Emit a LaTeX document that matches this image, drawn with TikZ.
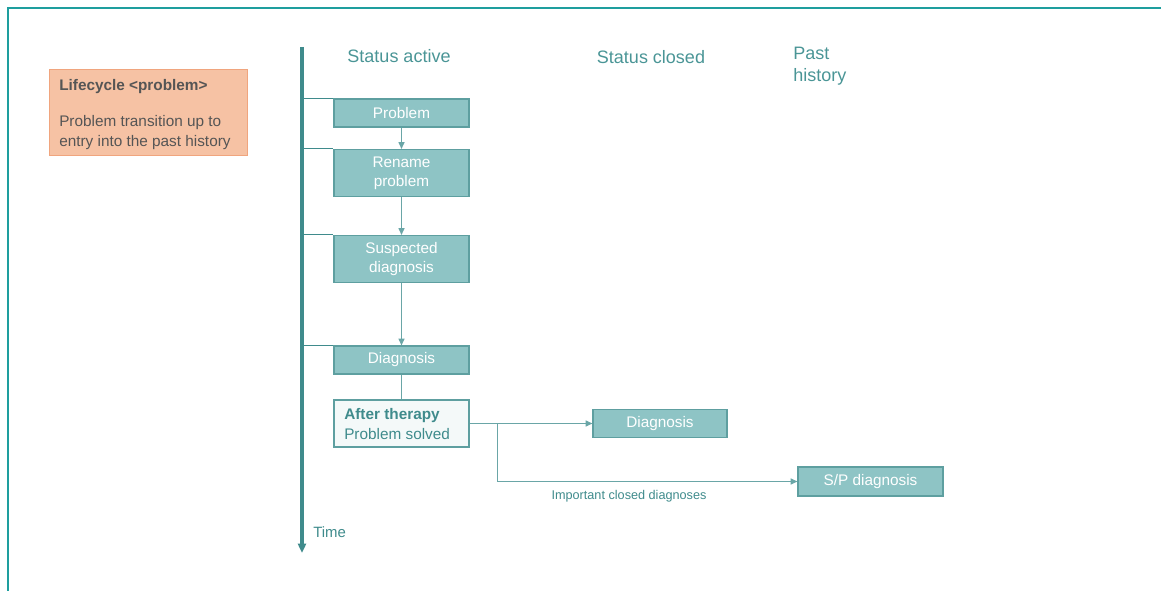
\documentclass[tikz,border=0pt]{standalone}
\usepackage{fontspec}
\setmainfont{Liberation Sans}
\usetikzlibrary{arrows.meta}
\definecolor{frameteal}{HTML}{1E9E9E}
\definecolor{axisteal}{HTML}{3F8B8C}
\definecolor{lineteal}{HTML}{6AA6A7}
\definecolor{boxfill}{HTML}{8EC4C5}
\definecolor{boxedge}{HTML}{5E9FA0}
\definecolor{headteal}{HTML}{4A9596}
\definecolor{lcfill}{HTML}{F6C2A4}
\definecolor{lcedge}{HTML}{F0A57E}
\definecolor{lctext}{HTML}{555555}
\tikzset{
  px/.style={x=0.75pt,y=-0.75pt},
  stagebox/.style={draw=boxedge,fill=boxfill,line width=0.9pt,text=white,
    font=\fontsize{11.5}{14.5}\selectfont,align=center,inner sep=0pt,
    minimum width=101.25pt},
  short/.style={minimum height=21pt},
  tall/.style={minimum height=35.25pt},
  header/.style={text=headteal,font=\fontsize{13.5}{16.5}\selectfont,inner sep=0pt},
  flow/.style={draw=lineteal,line width=0.7pt},
  flowarrow/.style={flow,-{Triangle[length=5pt,width=4.5pt]},shorten >=0pt},
  tick/.style={draw=axisteal,line width=0.8pt},
}
\begin{document}
\begin{tikzpicture}[px]
\useasboundingbox (0,0) rectangle (1161,591);
% page frame
\draw[frameteal,line width=1.4pt] (8,591) -- (8,8) -- (1161,8);

% legend box
\node[draw=lcedge,fill=lcfill,line width=0.9pt,anchor=north west,
      minimum width=148.5pt,minimum height=64.5pt,inner sep=0pt] (lc) at (49,69) {};
\node[anchor=north west,text=lctext,align=left,inner sep=0pt,
      font=\fontsize{11.5}{15}\selectfont] (lctxt) at (59,79)
  {\textbf{Lifecycle <problem>}\\[12pt]Problem transition up to\\entry into the past history};

% time axis
\coordinate (ax0) at (302,47);
\coordinate (ax1) at (302,553);
\draw[axisteal,line width=2.3pt,-{Triangle[length=7pt,width=6pt]}] (ax0) -- (ax1);
\node[anchor=west,text=axisteal,font=\fontsize{11.2}{13}\selectfont,inner sep=0pt] (time) at (313,532) {Time};

% column headings
\node[header] (hact) at (399,56) {Status active};
\node[header] (hcl) at (651,57) {Status closed};
\node[header,align=left,anchor=north west] (hpast) at (793,47) {Past\\history};

% active stages
\node[stagebox,short] (p1) at (401.5,113) {Problem};
\node[stagebox,tall]  (p2) at (401.5,173) {Rename\\problem};
\node[stagebox,tall]  (p3) at (401.5,259) {Suspected\\diagnosis};
\node[stagebox,short] (p4) at (401.5,360) {Diagnosis};
\node[draw=boxedge,fill=boxfill!10,line width=0.9pt,minimum width=101.25pt,minimum height=35.25pt,inner sep=0pt] (p5) at (401.5,423.5) {};
\node[anchor=west,align=left,text=axisteal,inner sep=0pt,font=\fontsize{11.5}{15}\selectfont] (p5txt) at (344,424.5)
  {\textbf{After therapy}\\Problem solved};

% closed / past history
\node[stagebox,short,minimum width=100.5pt] (c1) at (660,423.5) {Diagnosis};
\node[stagebox,minimum width=108.75pt,minimum height=21.75pt] (s1) at (870.5,481.5) {S/P diagnosis};

% ticks from the time axis
\foreach \n in {p1,p2,p3,p4}{
  \draw[tick] (\n.north west -| ax0) -- (\n.north west);
}

% flow between stages
\draw[flowarrow] (p1) -- (p2);
\draw[flowarrow] (p2) -- (p3);
\draw[flowarrow] (p3) -- (p4);
\draw[flow] (p4) -- (p5);
\draw[flowarrow] (p5.east) -- (c1.west);
\coordinate (br) at (497,423.5);
\draw[flowarrow] (br) |- (s1.west);
\node[text=axisteal,font=\fontsize{9.5}{11}\selectfont,inner sep=0pt] (imp) at (629,496) {Important closed diagnoses};
\end{tikzpicture}
\end{document}
